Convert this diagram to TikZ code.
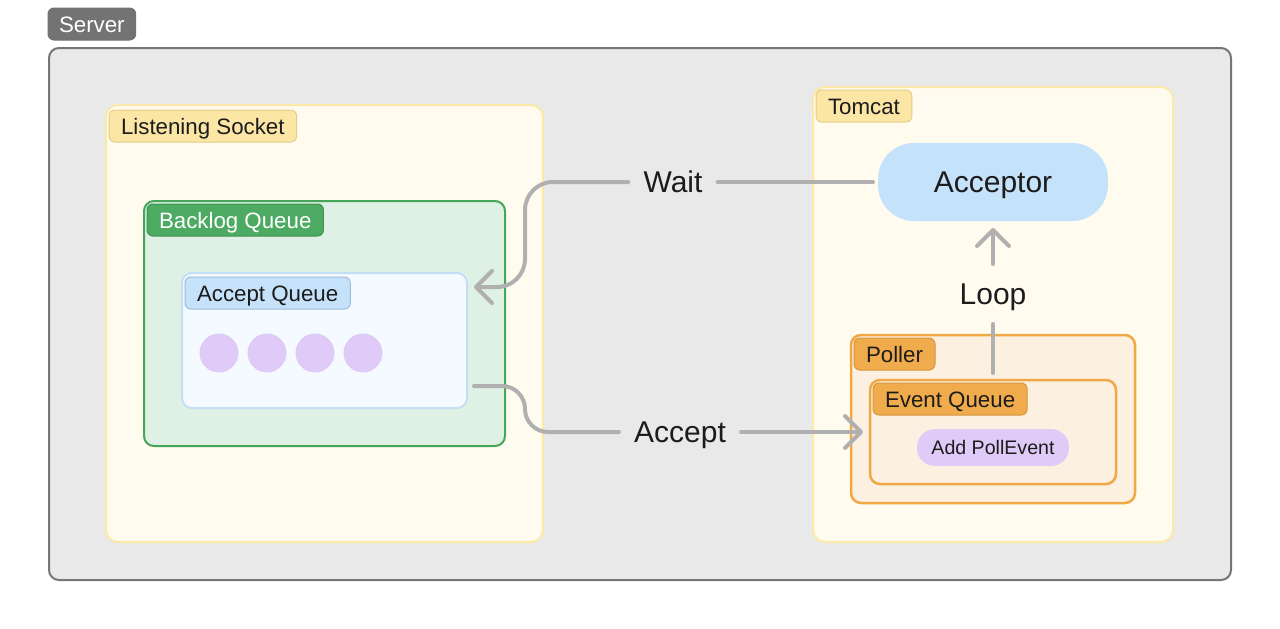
\documentclass[tikz,border=0pt]{standalone}
\usepackage{fontspec}
\setmainfont{Liberation Sans}
\usetikzlibrary{arrows.meta}
\definecolor{srvfill}{HTML}{E9E9E9}
\definecolor{srvdraw}{HTML}{767676}
\definecolor{srvtag}{HTML}{737373}
\definecolor{cream}{HTML}{FFFCEF}
\definecolor{creamdraw}{HTML}{FCE9A8}
\definecolor{yeltag}{HTML}{FBE6A6}
\definecolor{yeltagdraw}{HTML}{E3CD8A}
\definecolor{grnfill}{HTML}{DFF0E5}
\definecolor{grndraw}{HTML}{47A55A}
\definecolor{grntag}{HTML}{4DAA62}
\definecolor{grntagdraw}{HTML}{3F9150}
\definecolor{aqfill}{HTML}{F5FAFF}
\definecolor{aqdraw}{HTML}{C4DEF6}
\definecolor{bluetag}{HTML}{C6E2FB}
\definecolor{bluetagdraw}{HTML}{9CBBDA}
\definecolor{dot}{HTML}{E0CBF8}
\definecolor{accfill}{HTML}{C5E2FB}
\definecolor{orfill}{HTML}{FCF0E0}
\definecolor{ordraw}{HTML}{F0A844}
\definecolor{ortag}{HTML}{F0AC4C}
\definecolor{ortagdraw}{HTML}{D49540}
\definecolor{linegray}{HTML}{B0B0B0}
\definecolor{ink}{HTML}{1C1C1C}
\tikzset{
  cont/.style={rounded corners=10pt, line width=2pt, inner sep=0pt, outer sep=0pt, anchor=north west},
  tag/.style={rounded corners=6pt, line width=1pt, anchor=north west, inner xsep=12pt, outer sep=0pt,
    inner ysep=8pt, text height=16pt, text depth=0pt, minimum height=32pt,
    font=\fontsize{22.3}{26}\selectfont, text=ink},
  biglbl/.style={font=\fontsize{30}{34}\selectfont, text=ink, text height=21.5pt, text depth=0pt,
    inner xsep=15pt, inner ysep=19pt},
  conn/.style={draw=linegray, line width=4pt, line cap=round},
  tip/.style={-{Straight Barb[length=16pt,width=32pt,round]}},
  dotnode/.style={circle, fill=dot, minimum size=39pt, inner sep=0pt}
}
\begin{document}
\begin{tikzpicture}[x=1pt,y=-1pt]
\useasboundingbox[fill=white] (0,0) rectangle (1280,629);
% server
\node[cont, fill=srvfill, draw=srvdraw, minimum width=1182pt, minimum height=532pt] (server) at (49,48) {};
\node[tag, fill=srvtag, draw=srvtag, text=white, inner xsep=11pt] (servertag) at (48,8) {Server};
% listening socket
\node[cont, fill=cream, draw=creamdraw, rounded corners=12pt, minimum width=437pt, minimum height=437pt] (listen) at (106,105) {};
\node[tag, fill=yeltag, draw=yeltagdraw] (listentag) at (109,110) {Listening Socket};
% backlog
\node[cont, fill=grnfill, draw=grndraw, minimum width=361pt, minimum height=245pt] (backlog) at (144,201) {};
\node[tag, fill=grntag, draw=grntagdraw, text=white] (backlogtag) at (147,204) {Backlog Queue};
% accept queue
\node[cont, fill=aqfill, draw=aqdraw, minimum width=285pt, minimum height=135pt] (acceptq) at (182,273) {};
\node[tag, fill=bluetag, draw=bluetagdraw] (acceptqtag) at (185,277) {Accept Queue};
\node[dotnode] (d1) at (219,353) {};
\node[dotnode] (d2) at (267,353) {};
\node[dotnode] (d3) at (315,353) {};
\node[dotnode] (d4) at (363,353) {};
% tomcat
\node[cont, fill=cream, draw=creamdraw, rounded corners=12pt, minimum width=360pt, minimum height=455pt] (tomcat) at (813,87) {};
\node[tag, fill=yeltag, draw=yeltagdraw] (tomcattag) at (816,90) {Tomcat};
\node[fill=accfill, rounded corners=36pt, minimum width=230pt, minimum height=78pt, inner sep=0pt, outer sep=0pt,
  text height=21.5pt, text depth=0pt,
  font=\fontsize{30}{34}\selectfont, text=ink] (acceptor) at (993,182) {Acceptor};
% poller
\node[cont, fill=orfill, draw=ordraw, line width=2.5pt, minimum width=284pt, minimum height=168pt] (poller) at (851,335) {};
\node[tag, fill=ortag, draw=ortagdraw] (pollertag) at (854,338) {Poller};
\node[cont, fill=orfill, draw=ordraw, line width=2.5pt, minimum width=246pt, minimum height=104pt] (eventq) at (870,380) {};
\node[tag, fill=ortag, draw=ortagdraw] (eventqtag) at (873,383) {Event Queue};
\node[fill=dot, rounded corners=18pt, minimum width=152pt, minimum height=37pt, inner sep=0pt,
  font=\fontsize{19.6}{23}\selectfont, text=ink] (pollevent) at (993,447.5) {Add PollEvent};
% connector labels
\node[biglbl] (wait) at (673,182) {Wait};
\node[biglbl] (accept) at (680,432) {Accept};
\node[biglbl] (loop) at (993,294) {Loop};
\coordinate (wtip) at (474,287);
\coordinate (astart) at (474,386);
\coordinate (atip) at (863,432);
% connectors
\draw[conn] (acceptor.west) ++(-5pt,0) -- (wait.east);
\draw[conn, tip, rounded corners=28pt] (wait.west) -- (525,182) -- (525,287) -- (wtip);
\draw[conn, rounded corners=23pt] (astart) -- (525,386) -- (525,432) -- (accept.west);
\draw[conn, tip] (accept.east) -- (atip);
\draw[conn] ([yshift=7pt]eventq.north) -- (loop.south);
\draw[conn, tip, shorten >=7pt] (loop.north) -- (acceptor.south);
\end{tikzpicture}
\end{document}
